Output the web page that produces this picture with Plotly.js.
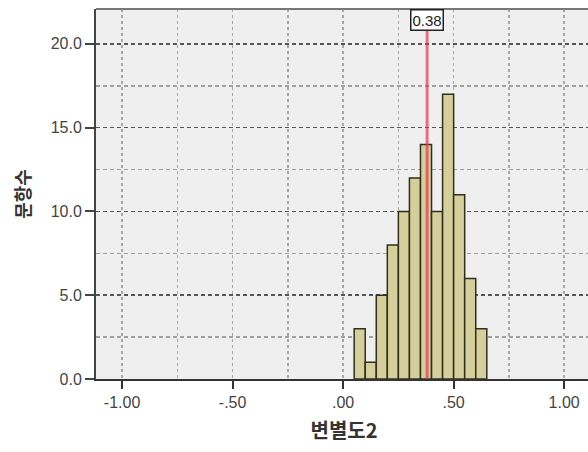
<!DOCTYPE html>
<html>
<head>
<meta charset="utf-8">
<script src="https://cdn.plot.ly/plotly-3.0.1.min.js"></script>
<style>
  html, body { margin: 0; padding: 0; overflow: hidden; background: #fff; }
  #chart { width: 600px; height: 452px; }
</style>
</head>
<body>
<div id="chart"></div>
<script>
// Histogram bins (lower edges, width 0.05) and counts
var binLower = [0.05, 0.10, 0.15, 0.20, 0.25, 0.30, 0.35, 0.40, 0.45, 0.50, 0.55, 0.60];
var counts   = [3, 1, 5, 8, 10, 12, 14, 10, 17, 11, 6, 3];
var binWidth = 0.05;
var meanValue = 0.38;
var meanLabel = "0.38";
var xTickVals = [-1, -0.5, 0, 0.5, 1];
var xTickText = ["-1.00", "-.50", ".00", ".50", "1.00"];
var yTickVals = [0, 5, 10, 15, 20];
var yTickText = ["0.0", "5.0", "10.0", "15.0", "20.0"];
var xTitle = "변별도2";
var yTitle = "문항수";

var centers = binLower.map(function (b) { return b + binWidth / 2; });

var trace = {
  type: 'bar',
  x: centers,
  y: counts,
  width: binWidth,
  marker: { color: '#d4cf9b', line: { color: '#2f2f1c', width: 1.5 } },
  hoverinfo: 'x+y'
};

var layout = {
  width: 600,
  height: 452,
  margin: { l: 96, r: 8, t: 9, b: 72.5 },
  paper_bgcolor: '#ffffff',
  plot_bgcolor: '#efefef',
  showlegend: false,
  font: { family: 'Liberation Sans, Arial, sans-serif', size: 16, color: '#444' },
  xaxis: {
    range: [-1.118, 1.126],
    tickvals: xTickVals,
    ticktext: xTickText,
    ticks: 'outside',
    ticklen: 8,
    tickwidth: 2,
    tickcolor: '#333',
    showline: true,
    linecolor: '#333',
    linewidth: 2,
    mirror: false,
    zeroline: false,
    showgrid: true,
    gridcolor: '#a8a8a8',
    gridwidth: 1.5,
    griddash: 'dot',
    minor: { dtick: 0.25, tick0: 0, showgrid: true, gridcolor: '#a8a8a8', gridwidth: 1.5, griddash: 'dot', ticks: '' },
    tickfont: { family: 'Liberation Sans, Arial, sans-serif', size: 16, color: '#444' },
    title: { text: xTitle, font: { family: 'Noto Sans CJK KR', size: 20, color: '#333', weight: 'bold' }, standoff: 14 }
  },
  yaxis: {
    range: [0, 22.08],
    tickvals: yTickVals,
    ticktext: yTickText,
    ticks: 'outside',
    ticklen: 9,
    tickwidth: 2,
    tickcolor: '#444',
    showline: true,
    linecolor: '#444',
    linewidth: 2,
    zeroline: false,
    showgrid: true,
    gridcolor: '#555',
    gridwidth: 1.5,
    griddash: '4px,3px',
    minor: { dtick: 2.5, tick0: 0, showgrid: true, gridcolor: '#a0a0a0', gridwidth: 1.5, griddash: '4px,3px', ticks: '' },
    tickfont: { family: 'Liberation Sans, Arial, sans-serif', size: 16, color: '#444' },
    title: { text: yTitle, font: { family: 'Noto Sans CJK KR', size: 18, color: '#333', weight: 'bold' }, standoff: 15 }
  },
  shapes: [
    { type: 'line', xref: 'paper', yref: 'paper', x0: 0, x1: 1, y0: 1, y1: 1,
      line: { color: '#777', width: 2 }, layer: 'above' },
    { type: 'line', xref: 'x', yref: 'paper', x0: meanValue, x1: meanValue, y0: 0, y1: 1,
      line: { color: 'rgba(228,50,80,0.68)', width: 3 }, layer: 'above' }
  ],
  annotations: [
    { x: meanValue, xref: 'x', y: 1, yref: 'paper', yanchor: 'top', xanchor: 'center',
      text: meanLabel, showarrow: false, bgcolor: '#ffffff', bordercolor: '#222',
      borderwidth: 1.5, borderpad: 1, font: { family: 'Liberation Sans, Arial, sans-serif', size: 15, color: '#222' } }
  ]
};

Plotly.newPlot('chart', [trace], layout, { displayModeBar: false, staticPlot: true });
</script>
</body>
</html>
